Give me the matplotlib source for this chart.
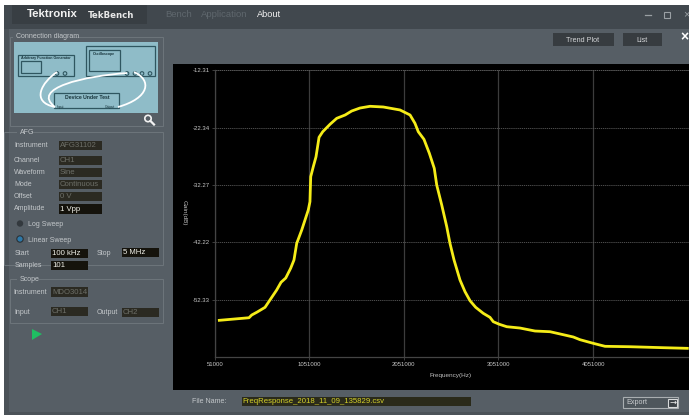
import matplotlib
matplotlib.use('Agg')
import matplotlib.pyplot as plt
from matplotlib.patches import Rectangle, Polygon, Circle, PathPatch
from matplotlib.path import Path

plt.rcParams['font.family'] = ['Liberation Sans', 'DejaVu Sans']

W, H = 689, 415

freq_khz = [100, 414, 442, 501, 583, 654, 706, 752, 802, 854, 889, 918, 971, 1040, 1058,
            1066, 1093, 1122, 1154, 1193, 1270, 1341, 1430, 1499, 1587, 1693, 1833, 2010,
            2116, 2168, 2203, 2263, 2320, 2372, 2398, 2451, 2504, 2538, 2581, 2644, 2697,
            2750, 2810, 2890, 2961, 2996, 3060, 3138, 3278, 3437, 3596, 3736, 3842, 3913,
            4053, 4177, 4441, 4793, 5047]
gain_db = [-55.79, -55.34, -54.87, -54.34, -53.53, -51.79, -50.52, -49.18, -48.43, -46.74,
           -45.30, -42.40, -40.08, -36.61, -35.16, -30.81, -29.08, -27.34, -23.96, -22.99,
           -21.70, -20.66, -20.08, -19.39, -18.87, -18.57, -18.69, -19.21, -20.08, -21.53,
           -22.99, -24.31, -26.74, -29.35, -32.26, -35.74, -39.51, -42.40, -45.30, -48.78,
           -50.81, -52.38, -53.53, -54.57, -55.27, -56.03, -56.48, -56.90, -57.13, -57.65,
           -57.77, -58.29, -58.69, -59.16, -59.79, -60.31, -60.38, -60.55, -60.66]

x_ticks = [51000, 1051000, 2051000, 3051000, 4051000]
y_ticks = [-12.31, -22.34, -32.27, -42.22, -52.33]

afg_rows = [('Instrument', 'AFG31102', 141), ('Channel', 'CH1', 156), ('Waveform', 'Sine', 168),
            ('Mode', 'Continuous', 180), ('Offset', '0 V', 192)]


def box(ui, x0, y0, x1, y1, fc='none', ec='none', lw=0.8, z=1):
    ui.add_patch(Rectangle((x0, y0), x1 - x0, y1 - y0, fc=fc, ec=ec, lw=lw, zorder=z))


def label(ui, x, y, s, color='#c4c8cb', size=5.0, **kw):
    ui.text(x, y, s, color=color, fontsize=size, va='center', zorder=5, **kw)


def field(ui, x0, y0, x1, y1, s, active=False):
    box(ui, x0, y0, x1, y1, fc='#15130c' if active else '#2b2a22', z=2)
    size = 5.6 if active else 5.6
    label(ui, x0 + 1, (y0 + y1) / 2, s, color='#f0f0e8' if active else '#6d6f68', size=size)


def group(ui, x0, y0, x1, y1, title, tx):
    box(ui, x0, y0, x1, y1, ec='#6d757b', lw=0.7, z=2)
    box(ui, tx - 3, y0 - 3, tx + 3 + len(title) * 3.05, y0 + 3, fc='#565e65', z=2)
    label(ui, tx, y0, title)


def wire(ui, verts):
    codes = [Path.MOVETO] + [Path.CURVE4] * (len(verts) - 1)
    ui.add_patch(PathPatch(Path(verts, codes), fc='none', ec='white', lw=1.3, zorder=4))


def draw_diagram(ui):
    box(ui, 14, 42, 158, 113, fc='#8fbcc8', z=2)
    edge = '#2f5660'
    for x0, y0, x1, y1 in [(18, 55, 74, 76), (21, 61, 41, 73), (86, 46, 155, 76),
                           (89, 50, 120, 71), (54, 93, 119, 108)]:
        box(ui, x0, y0, x1, y1, ec=edge, lw=0.9, z=3)
    label(ui, 46, 58, 'Arbitrary Function Generator', color='#17343b', size=2.6, ha='center', weight='bold')
    label(ui, 104, 54, 'Oscilloscope', color='#17343b', size=2.6, ha='center', weight='bold')
    label(ui, 87, 97, 'Device Under Test', color='#17343b', size=3.7, ha='center', weight='bold')
    label(ui, 57, 107, 'Input', color='#17343b', size=2.4)
    label(ui, 105, 107, 'Output', color='#17343b', size=2.4)
    for x in [57, 65, 127, 135, 142, 150]:
        ui.add_patch(Circle((x, 73.5), 1.8, fc='#8fbcc8', ec=edge, lw=0.8, zorder=3))
    wire(ui, [(57, 72), (42, 82), (30, 102), (55, 107)])
    wire(ui, [(127, 73), (85, 76), (30, 88), (55, 107)])
    wire(ui, [(134, 72), (152, 80), (150, 98), (118, 107)])
    ui.add_patch(Circle((148, 118.5), 3.2, fc='none', ec='#f2f2f2', lw=1.2, zorder=4))
    ui.plot([150.5, 154], [121, 124.5], color='#f2f2f2', lw=1.6, zorder=4)


def draw_ui(ui):
    box(ui, 4, 5, W, H, fc='#565e65', z=0)
    box(ui, 4, 5, W, 29, fc='#41484e', z=1)
    box(ui, 12, 5, 147, 24, fc='#383e43', z=1)
    box(ui, 4, 29, 9, H, fc='#4b5258', z=1)
    box(ui, 4, 412, W, H, fc='#4b5258', z=1)
    label(ui, 27, 14, 'Tektronix', color='#f2f2f2', size=8.2, weight='bold')
    label(ui, 88, 15, 'TekBench', color='#e8e8e8', size=6.2, weight='bold', family='DejaVu Sans')
    label(ui, 165, 14.5, 'Bench', color='#5f676d', size=6.8)
    label(ui, 201, 14.5, 'Application', color='#5f676d', size=6.8)
    label(ui, 257, 14.5, 'About', color='#f2f2f2', size=6.6)

    # window controls
    ui.plot([645, 651], [15, 15], color='#9aa0a4', lw=0.9, zorder=4)
    box(ui, 664, 12, 670, 18, ec='#9aa0a4', lw=0.8, z=4)
    label(ui, 686, 14.5, '×', color='#9aa0a4', size=8, ha='center')
    box(ui, 553, 33, 614, 46, fc='#373c40', z=2)
    box(ui, 623, 33, 662, 46, fc='#373c40', z=2)
    label(ui, 583, 40, 'Trend Plot', color='#d4d6d8', size=5.2, ha='center')
    label(ui, 642, 40, 'List', color='#d4d6d8', size=5.2, ha='center')
    label(ui, 684, 37, '×', color='white', size=10, ha='center', weight='bold')

    group(ui, 10, 37, 163, 126, 'Connection diagram', 16)
    draw_diagram(ui)

    group(ui, 4, 132, 163, 265, 'AFG', 20)
    for name, val, y in afg_rows:
        label(ui, 14, y + 4.5, name)
        field(ui, 59, y, 102, y + 9, val)
    label(ui, 14, 208, 'Amplitude')
    field(ui, 59, 204, 102, 214, '1 Vpp', active=True)
    ui.add_patch(Circle((20, 223.5), 3.2, fc='#33393e', zorder=3))
    label(ui, 28, 224, 'Log Sweep')
    ui.add_patch(Circle((20, 239), 3.2, fc='#2d78a8', ec='#2b3135', lw=0.8, zorder=3))
    label(ui, 28, 240, 'Linear Sweep')
    label(ui, 15, 253, 'Start')
    field(ui, 51, 249, 88, 258, '100 kHz', active=True)
    label(ui, 97, 253, 'Stop')
    field(ui, 122, 248, 159, 257, '5 MHz', active=True)
    label(ui, 15, 265, 'Samples')
    field(ui, 51, 261, 88, 270, '101', active=True)

    group(ui, 10, 279, 163, 323, 'Scope', 20)
    label(ui, 13, 292, 'Instrument')
    field(ui, 51, 287, 88, 297, 'MDO3014')
    label(ui, 14, 312, 'Input')
    field(ui, 51, 307, 88, 316, 'CH1')
    label(ui, 97, 312, 'Output')
    field(ui, 122, 308, 159, 317, 'CH2')
    ui.add_patch(Polygon([(32, 329), (32, 340), (42, 334)], fc='#1fbf62', zorder=3))

    # chart backing and bottom bar
    box(ui, 173, 64, W, 390, fc='black', z=1)
    label(ui, 192, 401, 'File Name:')
    box(ui, 242, 397, 471, 406, fc='#2a2a1a', z=2)
    label(ui, 242, 401.5, 'FreqResponse_2018_11_09_135829.csv', color='#d6d22a', size=5.6)
    box(ui, 623, 397, 678, 408, fc='#4e565c', ec='#a9aeb1', lw=0.8, z=2)
    label(ui, 626, 402.5, 'Export', color='#c9cccf', size=5.2)
    box(ui, 668, 398.5, 677, 407, fc='#3a4045', ec='#d8dadb', lw=0.8, z=3)
    label(ui, 672.5, 402.5, '→', color='#f0f0f0', size=6, ha='center', family='DejaVu Sans')


def draw_chart(fig):
    left, right, top, bottom = 214.7, 689, 70.3, 357.3
    ax = fig.add_axes([left / W, 1 - bottom / H, (right - left) / W, (bottom - top) / H])
    ax.set_facecolor('black')
    ax.patch.set_alpha(0)

    ax.plot([f * 1000 for f in freq_khz], gain_db, color='#f5ec18', lw=2.0, solid_joinstyle='round', zorder=3)
    ax.set_xlim(51000, 5064800)
    ax.set_ylim(-62.22, -12.31)
    ax.set_xticks(x_ticks)
    ax.set_xticklabels([str(t) for t in x_ticks])
    ax.set_yticks(y_ticks)
    ax.set_yticklabels(['%.2f' % t for t in y_ticks])
    ax.tick_params(colors='#c8c8c8', labelsize=4.3, length=2, width=0.5, color='#555555', pad=1.5)
    ax.grid(axis='x', color='#3c3c3c', lw=0.9)
    ax.grid(axis='y', color='#5a5a5a', lw=0.6, ls=(0, (1.5, 1)))
    ax.set_axisbelow(True)
    for side in ['top', 'right']:
        ax.spines[side].set_visible(False)
    ax.plot([0, 1], [1, 1], transform=ax.transAxes, color='#5a5a5a', lw=0.6, ls=(0, (1.5, 1)), clip_on=False)
    for side in ['left', 'bottom']:
        ax.spines[side].set_color('#444444')
        ax.spines[side].set_linewidth(0.9)
    ax.set_xlabel('Frequency(Hz)', color='#c0c0c0', fontsize=4.6)
    ax.xaxis.set_label_coords((451 - left) / (right - left), -(372.5 - bottom) / (bottom - top))
    ax.set_ylabel('Gain(dB)', color='#c0c0c0', fontsize=4.6, rotation=270, va='center')
    ax.yaxis.set_label_coords((184.5 - left) / (right - left), (bottom - 213) / (bottom - top))


def main():
    fig = plt.figure(figsize=(W / 100, H / 100), dpi=100, facecolor='white')
    ui = fig.add_axes([0, 0, 1, 1])
    ui.set_xlim(0, W)
    ui.set_ylim(H, 0)
    ui.axis('off')
    draw_ui(ui)
    draw_chart(fig)
    fig.savefig('out.png', dpi=100, facecolor='white')


if __name__ == '__main__':
    main()
